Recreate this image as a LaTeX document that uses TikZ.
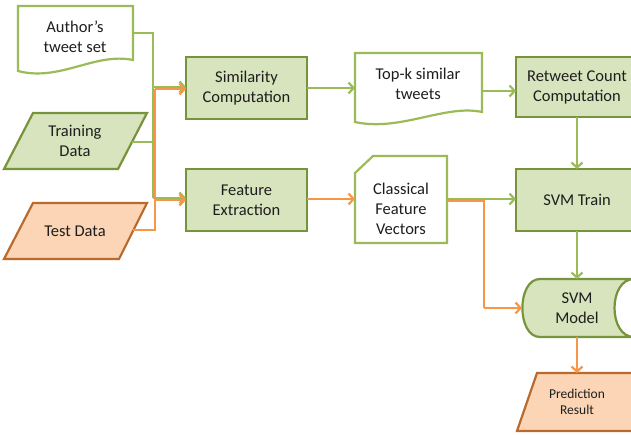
\documentclass[tikz,border=0pt]{standalone}
\usepackage{fontspec}
\setmainfont{Carlito}
\usetikzlibrary{arrows.meta}
\definecolor{gfill}{HTML}{D7E4BD}
\definecolor{gdark}{HTML}{77933C}
\definecolor{gline}{HTML}{9BBB59}
\definecolor{ofill}{HTML}{FBD5B5}
\definecolor{odark}{HTML}{B96A2C}
\definecolor{oline}{HTML}{F79646}
\definecolor{txt}{HTML}{1E1E1E}
\tikzset{
  procbox/.style={draw=gdark, fill=gfill, line width=2.2pt, inner sep=0pt, outer sep=0pt, align=center},
  lbl/.style={inner sep=0pt, align=center, text=txt, font=\fontsize{16.5}{20}\selectfont},
  smalllbl/.style={inner sep=0pt, align=center, text=txt, font=\fontsize{13.5}{16}\selectfont},
  docshape/.style={draw=gline, fill=white, line width=2.2pt, line join=miter},
  gshape/.style={draw=gdark, fill=gfill, line width=2.2pt},
  oshape/.style={draw=odark, fill=ofill, line width=2.2pt},
  gconn/.style={draw=gline, line width=2.2pt, -{Straight Barb[length=5pt,width=11pt]}},
  gplain/.style={draw=gline, line width=2.2pt},
  oconn/.style={draw=oline, line width=2.2pt, -{Straight Barb[length=5pt,width=11pt]}},
  oplain/.style={draw=oline, line width=2.2pt},
}
\begin{document}
\begin{tikzpicture}[x=1pt,y=-1pt]
\clip (0,0) rectangle (631,434);
\fill[white] (0,0) rectangle (631,434);

% Author's tweet set (document)
\path[docshape] (18,6) -- (133,6) -- (133,60) .. controls (95,52) and (60,82) .. (18,71) -- cycle;
\node[lbl] (auth) at (75,37) {Author’s\\tweet set};

% Training Data
\path[gshape] (33,113) -- (147,113) -- (118,169) -- (4,169) -- cycle;
\node[lbl] (train) at (75,141) {Training\\Data};

% Test Data
\path[oshape] (33,203) -- (147,203) -- (119,259) -- (4,259) -- cycle;
\node[lbl] (test) at (75,231) {Test Data};

% Process boxes
\node[procbox, minimum width=121pt, minimum height=62pt] (sim) at (246.5,88) {};
\node[lbl] (simt) at (sim.center) {Similarity\\Computation};
\node[procbox, minimum width=121pt, minimum height=62pt] (fe) at (246.5,200) {};
\node[lbl] (fet) at (fe.center) {Feature\\Extraction};
\node[procbox, minimum width=122pt, minimum height=60pt] (rc) at (577,87) {};
\node[lbl] (rct) at (rc.center) {Retweet Count\\Computation};
\node[procbox, minimum width=122pt, minimum height=62pt] (svt) at (577,200) {};
\node[lbl] (svtt) at (svt.center) {SVM Train};

% Top-k (document)
\path[docshape] (355,53) -- (482,53) -- (482,112) .. controls (445,104) and (400,132) .. (355,122) -- cycle;
\node[lbl] (topk) at (418,84) {Top-k similar\\tweets};

% Classical feature vectors (card)
\path[docshape] (373,156) -- (447,156) -- (447,243) -- (355,243) -- (355,173) -- cycle;
\node[lbl] (cfv) at (401,209) {Classical\\Feature\\Vectors};

% SVM Model (stored data)
\path[gshape] (540,279) -- (634,279) .. controls (608,279) and (608,337) .. (634,337) -- (540,337) .. controls (516.5,337) and (516.5,279) .. (540,279) -- cycle;
\draw[draw=gdark, line width=2.2pt] (634,279) -- (650,279) (634,337) -- (650,337);
\node[lbl] (svm) at (577,308) {SVM\\Model};

% Prediction Result
\path[oshape] (537,373) -- (660,373) -- (640,431) -- (517,431) -- cycle;
\node[smalllbl] (pred) at (577,402) {Prediction\\Result};

% junction coordinates
\coordinate (aR) at (133,33);
\coordinate (gT) at (153,33);
\coordinate (gB) at (153,198);
\coordinate (gS) at (153,87);
\coordinate (trR) at (132,142);
\coordinate (trJ) at (153,142);
\coordinate (teR) at (133,230);
\coordinate (oB) at (155,230);
\coordinate (oS) at (155,89);
\coordinate (oF) at (155,200);

% green trunk
\draw[gplain] (aR) -- (gT) -- (gB);
\draw[gplain] (trR) -- (trJ);
\draw[gconn] (gS) -- (sim.west |- gS);
\draw[gconn] (gB) -- (fe.west |- gB);
% orange trunk
\draw[oplain] (teR) -- (oB) -- (oS);
\draw[oconn] (oS) -- (sim.west |- oS);
\draw[oconn] (oF) -- (fe.west |- oF);

% main flow
\coordinate (tkL) at (355,88);
\draw[gconn] (sim.east |- tkL) -- (tkL);
\coordinate (tkR) at (482,91);
\draw[gconn] (tkR) -- (rc.west |- tkR);
\draw[gconn] (rc.south) -- (svt.north);
\coordinate (cfL) at (355,199);
\draw[oconn] (fe.east |- cfL) -- (cfL);
\coordinate (cfR) at (447,199);
\draw[gconn] (cfR) -- (svt.west |- cfR);
\coordinate (cfO) at (447,201);
\coordinate (oC) at (484,201);
\coordinate (oM) at (484,308);
\coordinate (svmL) at (522,308);
\draw[oplain] (cfO) -- (oC) -- (oM);
\draw[oconn] (oM) -- (svmL);
\coordinate (svmT) at (577,279);
\draw[gconn] (svt.south) -- (svmT);
\coordinate (svmB) at (577,337);
\coordinate (prT) at (577,373);
\draw[oconn] (svmB) -- (prT);
\end{tikzpicture}
\end{document}
